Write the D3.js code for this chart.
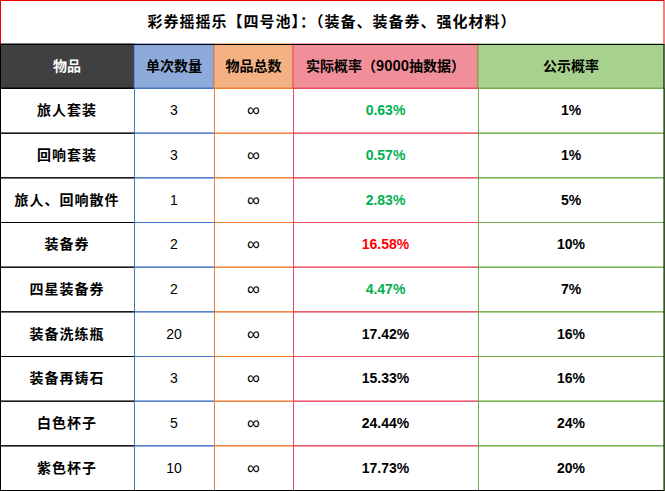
<!doctype html>
<html>
  <head>
    <script src="https://cdnjs.cloudflare.com/ajax/libs/d3/7.8.5/d3.min.js"></script>
    <style>
      body { margin: 0; background: #fff; }
      text { font-family: "Noto Sans CJK SC", sans-serif; }
      text.num { font-family: "Liberation Sans", sans-serif; }
    </style>
  </head>
  <body>
    <svg width="665" height="491"></svg>
    <script>
      var title = "彩券摇摇乐【四号池】：（装备、装备券、强化材料）";
      var headers = ["物品", "单次数量", "物品总数", "实际概率（9000抽数据）", "公示概率"];
      var items = ["旅人套装", "回响套装", "旅人、回响散件", "装备券", "四星装备券", "装备洗练瓶", "装备再铸石", "白色杯子", "紫色杯子"];
      var perDraw = [3, 3, 1, 2, 2, 20, 3, 5, 10];
      var actual = ["0.63%", "0.57%", "2.83%", "16.58%", "4.47%", "17.42%", "15.33%", "24.44%", "17.73%"];
      var announced = ["1%", "1%", "5%", "10%", "7%", "16%", "16%", "24%", "20%"];
      var actualColor = ["#00b050", "#00b050", "#00b050", "#ff0000", "#00b050", "#000", "#000", "#000", "#000"];

      var colEdges = [0, 134, 214, 293, 478, 664];
      var headFill = ["#404040", "#8eaadb", "#f4b183", "#f08f9a", "#a9d18e"];
      var lineCol = ["#000", "#4472c4", "#ed7d31", "#e84a5f", "#70ad47"];
      var headText = ["#fff", "#000", "#000", "#000", "#000"];

      var svg = d3.select("svg");
      var y = d3.scaleBand().domain(d3.range(items.length)).range([88, 490]);

      // title
      svg.append("rect").attr("x", 0.5).attr("y", 0.5).attr("width", 663.5).attr("height", 44)
        .attr("fill", "#fff").attr("stroke", "#e00").attr("stroke-width", 1);
      svg.append("text").attr("x", 332).attr("y", 27).attr("text-anchor", "middle")
        .attr("font-size", 15).attr("font-weight", "bold").attr("letter-spacing", 1).text(title);

      // header
      headers.forEach(function (h, i) {
        var x0 = colEdges[i], x1 = colEdges[i + 1];
        svg.append("rect").attr("x", x0).attr("y", 44).attr("width", x1 - x0).attr("height", 44)
          .attr("fill", headFill[i]).attr("stroke", lineCol[i]);
        svg.append("text").attr("x", (x0 + x1) / 2).attr("y", 71).attr("text-anchor", "middle")
          .attr("font-size", 14).attr("font-weight", "bold").attr("fill", headText[i]).text(h);
      });

      // body
      items.forEach(function (it, r) {
        var cells = [it, perDraw[r], "∞", actual[r], announced[r]];
        cells.forEach(function (c, i) {
          var x0 = colEdges[i], x1 = colEdges[i + 1];
          svg.append("rect").attr("x", x0 + 0.5).attr("y", y(r) + 0.5).attr("width", x1 - x0).attr("height", y.bandwidth())
            .attr("fill", "none").attr("stroke", lineCol[i]);
          var t = svg.append("text").attr("x", (x0 + x1) / 2).attr("y", y(r) + y.bandwidth() / 2 + 5)
            .attr("text-anchor", "middle").text(c);
          if (i === 0) t.attr("font-size", 14).attr("font-weight", "bold").attr("letter-spacing", 1);
          else if (i === 1) t.attr("class", "num").attr("font-size", 14);
          else if (i === 2) t.attr("class", "num").attr("font-size", 18).attr("y", y(r) + y.bandwidth() / 2 + 6);
          else t.attr("class", "num").attr("font-size", 14).attr("font-weight", "bold")
            .attr("fill", i === 3 ? actualColor[r] : "#000");
        });
      });
      svg.append("rect").attr("x", 0.5).attr("y", 44.5).attr("width", 663.5).attr("height", 446)
        .attr("fill", "none").attr("stroke", "#000");
    </script>
  </body>
</html>
